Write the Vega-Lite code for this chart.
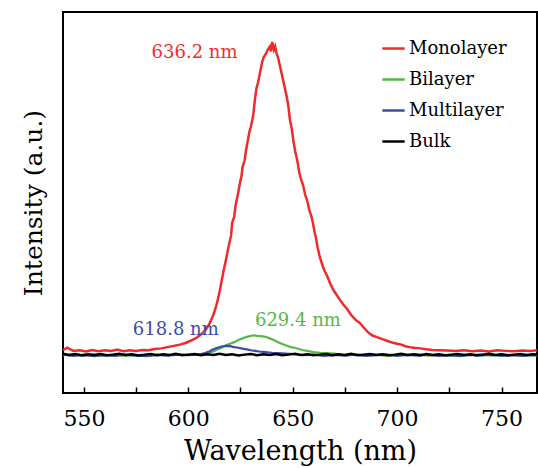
{
  "$schema": "https://vega.github.io/schema/vega-lite/v6.json",
  "width": 474,
  "height": 381,
  "autosize": "none",
  "padding": {"left": 63, "top": 12, "right": 1, "bottom": 75},
  "background": "white",
  "config": {
    "view": {"stroke": "black", "strokeWidth": 2},
    "font": "DejaVu Serif"
  },
  "datasets": {
    "spectra": [
      {"s":"Monolayer","x":540,"y":0.012},{"s":"Monolayer","x":542,"y":0.02},{"s":"Monolayer","x":545,"y":0.01},{"s":"Monolayer","x":548,"y":0.012},{"s":"Monolayer","x":551,"y":0.008},{"s":"Monolayer","x":554,"y":0.013},{"s":"Monolayer","x":557,"y":0.009},{"s":"Monolayer","x":560,"y":0.012},{"s":"Monolayer","x":563,"y":0.01},{"s":"Monolayer","x":566,"y":0.014},{"s":"Monolayer","x":569,"y":0.009},{"s":"Monolayer","x":572,"y":0.012},{"s":"Monolayer","x":575,"y":0.01},{"s":"Monolayer","x":578,"y":0.013},{"s":"Monolayer","x":581,"y":0.012},{"s":"Monolayer","x":584,"y":0.016},{"s":"Monolayer","x":587,"y":0.018},{"s":"Monolayer","x":590,"y":0.022},{"s":"Monolayer","x":593,"y":0.026},{"s":"Monolayer","x":596,"y":0.03},{"s":"Monolayer","x":599,"y":0.036},{"s":"Monolayer","x":602,"y":0.045},{"s":"Monolayer","x":604,"y":0.052},{"s":"Monolayer","x":606,"y":0.062},{"s":"Monolayer","x":608,"y":0.075},{"s":"Monolayer","x":610,"y":0.095},{"s":"Monolayer","x":611,"y":0.11},{"s":"Monolayer","x":612,"y":0.125},{"s":"Monolayer","x":613,"y":0.145},{"s":"Monolayer","x":614,"y":0.17},{"s":"Monolayer","x":615,"y":0.2},{"s":"Monolayer","x":616,"y":0.235},{"s":"Monolayer","x":617,"y":0.27},{"s":"Monolayer","x":618,"y":0.3},{"s":"Monolayer","x":619,"y":0.335},{"s":"Monolayer","x":620,"y":0.365},{"s":"Monolayer","x":620.5,"y":0.38},{"s":"Monolayer","x":621,"y":0.42},{"s":"Monolayer","x":622,"y":0.44},{"s":"Monolayer","x":622.6,"y":0.475},{"s":"Monolayer","x":623.4,"y":0.5},{"s":"Monolayer","x":624,"y":0.52},{"s":"Monolayer","x":624.8,"y":0.55},{"s":"Monolayer","x":625.5,"y":0.57},{"s":"Monolayer","x":626,"y":0.6},{"s":"Monolayer","x":627,"y":0.62},{"s":"Monolayer","x":627.6,"y":0.65},{"s":"Monolayer","x":628.4,"y":0.68},{"s":"Monolayer","x":629.2,"y":0.71},{"s":"Monolayer","x":630,"y":0.73},{"s":"Monolayer","x":631,"y":0.76},{"s":"Monolayer","x":632,"y":0.82},{"s":"Monolayer","x":632.6,"y":0.85},{"s":"Monolayer","x":633.4,"y":0.87},{"s":"Monolayer","x":634.3,"y":0.9},{"s":"Monolayer","x":635.2,"y":0.93},{"s":"Monolayer","x":636,"y":0.95},{"s":"Monolayer","x":637,"y":0.96},{"s":"Monolayer","x":638,"y":0.975},{"s":"Monolayer","x":639,"y":0.985},{"s":"Monolayer","x":639.6,"y":0.97},{"s":"Monolayer","x":640.2,"y":1.0},{"s":"Monolayer","x":641,"y":0.975},{"s":"Monolayer","x":641.6,"y":0.985},{"s":"Monolayer","x":642.4,"y":0.96},{"s":"Monolayer","x":643,"y":0.95},{"s":"Monolayer","x":644,"y":0.92},{"s":"Monolayer","x":645,"y":0.89},{"s":"Monolayer","x":646,"y":0.86},{"s":"Monolayer","x":647.3,"y":0.82},{"s":"Monolayer","x":648,"y":0.79},{"s":"Monolayer","x":648.7,"y":0.75},{"s":"Monolayer","x":649.6,"y":0.72},{"s":"Monolayer","x":650.4,"y":0.68},{"s":"Monolayer","x":651.2,"y":0.65},{"s":"Monolayer","x":652.2,"y":0.62},{"s":"Monolayer","x":653.2,"y":0.58},{"s":"Monolayer","x":654,"y":0.56},{"s":"Monolayer","x":655,"y":0.54},{"s":"Monolayer","x":656,"y":0.51},{"s":"Monolayer","x":657,"y":0.49},{"s":"Monolayer","x":658,"y":0.46},{"s":"Monolayer","x":659,"y":0.44},{"s":"Monolayer","x":659.7,"y":0.42},{"s":"Monolayer","x":660.5,"y":0.39},{"s":"Monolayer","x":661.2,"y":0.37},{"s":"Monolayer","x":662,"y":0.34},{"s":"Monolayer","x":663,"y":0.31},{"s":"Monolayer","x":664,"y":0.29},{"s":"Monolayer","x":665,"y":0.27},{"s":"Monolayer","x":666.5,"y":0.25},{"s":"Monolayer","x":668,"y":0.225},{"s":"Monolayer","x":669.5,"y":0.205},{"s":"Monolayer","x":671,"y":0.19},{"s":"Monolayer","x":672.5,"y":0.175},{"s":"Monolayer","x":674,"y":0.16},{"s":"Monolayer","x":676,"y":0.145},{"s":"Monolayer","x":678,"y":0.125},{"s":"Monolayer","x":680,"y":0.11},{"s":"Monolayer","x":682,"y":0.1},{"s":"Monolayer","x":684,"y":0.085},{"s":"Monolayer","x":686,"y":0.07},{"s":"Monolayer","x":688,"y":0.06},{"s":"Monolayer","x":690,"y":0.055},{"s":"Monolayer","x":692,"y":0.05},{"s":"Monolayer","x":694,"y":0.045},{"s":"Monolayer","x":696,"y":0.04},{"s":"Monolayer","x":698,"y":0.036},{"s":"Monolayer","x":700,"y":0.033},{"s":"Monolayer","x":702,"y":0.03},{"s":"Monolayer","x":704,"y":0.025},{"s":"Monolayer","x":706,"y":0.022},{"s":"Monolayer","x":708,"y":0.02},{"s":"Monolayer","x":711,"y":0.018},{"s":"Monolayer","x":714,"y":0.015},{"s":"Monolayer","x":717,"y":0.013},{"s":"Monolayer","x":720,"y":0.012},{"s":"Monolayer","x":724,"y":0.011},{"s":"Monolayer","x":728,"y":0.01},{"s":"Monolayer","x":732,"y":0.012},{"s":"Monolayer","x":736,"y":0.009},{"s":"Monolayer","x":740,"y":0.011},{"s":"Monolayer","x":744,"y":0.008},{"s":"Monolayer","x":748,"y":0.012},{"s":"Monolayer","x":752,"y":0.01},{"s":"Monolayer","x":756,"y":0.009},{"s":"Monolayer","x":760,"y":0.011},{"s":"Monolayer","x":764,"y":0.01},{"s":"Monolayer","x":767,"y":0.012},

      {"s":"Bilayer","x":540,"y":-0.004},{"s":"Bilayer","x":545,"y":-0.001},{"s":"Bilayer","x":550,"y":-0.006},{"s":"Bilayer","x":555,"y":-0.002},{"s":"Bilayer","x":560,"y":-0.005},{"s":"Bilayer","x":565,"y":-0.001},{"s":"Bilayer","x":570,"y":-0.006},{"s":"Bilayer","x":575,"y":-0.003},{"s":"Bilayer","x":580,"y":-0.005},{"s":"Bilayer","x":585,"y":-0.002},{"s":"Bilayer","x":590,"y":-0.004},{"s":"Bilayer","x":595,"y":-0.001},{"s":"Bilayer","x":600,"y":-0.003},{"s":"Bilayer","x":605,"y":-0.002},{"s":"Bilayer","x":608,"y":0.0},{"s":"Bilayer","x":610,"y":0.003},{"s":"Bilayer","x":612,"y":0.008},{"s":"Bilayer","x":614,"y":0.015},{"s":"Bilayer","x":616,"y":0.02},{"s":"Bilayer","x":618,"y":0.028},{"s":"Bilayer","x":620,"y":0.033},{"s":"Bilayer","x":622,"y":0.038},{"s":"Bilayer","x":624,"y":0.045},{"s":"Bilayer","x":626,"y":0.05},{"s":"Bilayer","x":628,"y":0.055},{"s":"Bilayer","x":630,"y":0.058},{"s":"Bilayer","x":631.5,"y":0.06},{"s":"Bilayer","x":633,"y":0.058},{"s":"Bilayer","x":635,"y":0.057},{"s":"Bilayer","x":637,"y":0.055},{"s":"Bilayer","x":639,"y":0.05},{"s":"Bilayer","x":641,"y":0.045},{"s":"Bilayer","x":643,"y":0.038},{"s":"Bilayer","x":645,"y":0.032},{"s":"Bilayer","x":647,"y":0.027},{"s":"Bilayer","x":649,"y":0.022},{"s":"Bilayer","x":651,"y":0.02},{"s":"Bilayer","x":653,"y":0.016},{"s":"Bilayer","x":655,"y":0.012},{"s":"Bilayer","x":657,"y":0.01},{"s":"Bilayer","x":660,"y":0.006},{"s":"Bilayer","x":663,"y":0.004},{"s":"Bilayer","x":666,"y":0.003},{"s":"Bilayer","x":670,"y":0.001},{"s":"Bilayer","x":675,"y":-0.004},{"s":"Bilayer","x":680,"y":-0.001},{"s":"Bilayer","x":685,"y":-0.005},{"s":"Bilayer","x":690,"y":-0.002},{"s":"Bilayer","x":695,"y":-0.006},{"s":"Bilayer","x":700,"y":-0.002},{"s":"Bilayer","x":705,"y":-0.004},{"s":"Bilayer","x":710,"y":-0.001},{"s":"Bilayer","x":715,"y":-0.005},{"s":"Bilayer","x":720,"y":-0.003},{"s":"Bilayer","x":725,"y":-0.006},{"s":"Bilayer","x":730,"y":-0.002},{"s":"Bilayer","x":735,"y":-0.004},{"s":"Bilayer","x":740,"y":-0.001},{"s":"Bilayer","x":745,"y":-0.005},{"s":"Bilayer","x":750,"y":-0.002},{"s":"Bilayer","x":755,"y":-0.004},{"s":"Bilayer","x":760,"y":-0.003},{"s":"Bilayer","x":767,"y":-0.005},

      {"s":"Multilayer","x":540,"y":-0.002},{"s":"Multilayer","x":545,"y":-0.006},{"s":"Multilayer","x":550,"y":-0.003},{"s":"Multilayer","x":555,"y":-0.007},{"s":"Multilayer","x":560,"y":-0.004},{"s":"Multilayer","x":565,"y":-0.006},{"s":"Multilayer","x":570,"y":-0.002},{"s":"Multilayer","x":575,"y":-0.005},{"s":"Multilayer","x":580,"y":-0.007},{"s":"Multilayer","x":585,"y":-0.003},{"s":"Multilayer","x":590,"y":-0.005},{"s":"Multilayer","x":595,"y":-0.002},{"s":"Multilayer","x":600,"y":-0.004},{"s":"Multilayer","x":604,"y":-0.002},{"s":"Multilayer","x":606,"y":0.0},{"s":"Multilayer","x":608,"y":0.003},{"s":"Multilayer","x":610,"y":0.008},{"s":"Multilayer","x":612,"y":0.015},{"s":"Multilayer","x":614,"y":0.02},{"s":"Multilayer","x":616,"y":0.024},{"s":"Multilayer","x":618,"y":0.026},{"s":"Multilayer","x":620,"y":0.025},{"s":"Multilayer","x":622,"y":0.022},{"s":"Multilayer","x":624,"y":0.02},{"s":"Multilayer","x":626,"y":0.017},{"s":"Multilayer","x":628,"y":0.015},{"s":"Multilayer","x":630,"y":0.012},{"s":"Multilayer","x":632,"y":0.01},{"s":"Multilayer","x":634,"y":0.008},{"s":"Multilayer","x":637,"y":0.006},{"s":"Multilayer","x":640,"y":0.004},{"s":"Multilayer","x":645,"y":0.002},{"s":"Multilayer","x":650,"y":0.0},{"s":"Multilayer","x":655,"y":-0.004},{"s":"Multilayer","x":660,"y":-0.002},{"s":"Multilayer","x":665,"y":-0.006},{"s":"Multilayer","x":670,"y":-0.003},{"s":"Multilayer","x":675,"y":-0.005},{"s":"Multilayer","x":680,"y":-0.002},{"s":"Multilayer","x":685,"y":-0.006},{"s":"Multilayer","x":690,"y":-0.004},{"s":"Multilayer","x":695,"y":-0.002},{"s":"Multilayer","x":700,"y":-0.006},{"s":"Multilayer","x":705,"y":-0.003},{"s":"Multilayer","x":710,"y":-0.005},{"s":"Multilayer","x":715,"y":-0.002},{"s":"Multilayer","x":720,"y":-0.006},{"s":"Multilayer","x":725,"y":-0.004},{"s":"Multilayer","x":730,"y":-0.007},{"s":"Multilayer","x":735,"y":-0.003},{"s":"Multilayer","x":740,"y":-0.005},{"s":"Multilayer","x":745,"y":-0.002},{"s":"Multilayer","x":750,"y":-0.006},{"s":"Multilayer","x":755,"y":-0.004},{"s":"Multilayer","x":760,"y":-0.006},{"s":"Multilayer","x":767,"y":-0.003},

      {"s":"Bulk","x":540,"y":0.001},{"s":"Bulk","x":543,"y":-0.003},{"s":"Bulk","x":546,"y":0.0},{"s":"Bulk","x":549,"y":-0.004},{"s":"Bulk","x":552,"y":-0.001},{"s":"Bulk","x":555,"y":-0.003},{"s":"Bulk","x":558,"y":0.0},{"s":"Bulk","x":561,"y":-0.004},{"s":"Bulk","x":564,"y":-0.002},{"s":"Bulk","x":567,"y":0.001},{"s":"Bulk","x":570,"y":-0.003},{"s":"Bulk","x":573,"y":-0.001},{"s":"Bulk","x":576,"y":-0.005},{"s":"Bulk","x":579,"y":-0.002},{"s":"Bulk","x":582,"y":0.0},{"s":"Bulk","x":585,"y":-0.004},{"s":"Bulk","x":588,"y":-0.001},{"s":"Bulk","x":591,"y":-0.003},{"s":"Bulk","x":594,"y":0.001},{"s":"Bulk","x":597,"y":-0.004},{"s":"Bulk","x":600,"y":-0.002},{"s":"Bulk","x":603,"y":0.0},{"s":"Bulk","x":606,"y":-0.004},{"s":"Bulk","x":609,"y":-0.001},{"s":"Bulk","x":612,"y":-0.003},{"s":"Bulk","x":615,"y":0.001},{"s":"Bulk","x":618,"y":-0.003},{"s":"Bulk","x":621,"y":-0.001},{"s":"Bulk","x":624,"y":-0.005},{"s":"Bulk","x":627,"y":-0.002},{"s":"Bulk","x":630,"y":0.0},{"s":"Bulk","x":633,"y":-0.004},{"s":"Bulk","x":636,"y":-0.001},{"s":"Bulk","x":639,"y":-0.003},{"s":"Bulk","x":642,"y":0.0},{"s":"Bulk","x":645,"y":-0.004},{"s":"Bulk","x":648,"y":-0.002},{"s":"Bulk","x":651,"y":0.001},{"s":"Bulk","x":654,"y":-0.003},{"s":"Bulk","x":657,"y":-0.001},{"s":"Bulk","x":660,"y":-0.004},{"s":"Bulk","x":663,"y":-0.002},{"s":"Bulk","x":666,"y":0.0},{"s":"Bulk","x":669,"y":-0.004},{"s":"Bulk","x":672,"y":-0.001},{"s":"Bulk","x":675,"y":-0.003},{"s":"Bulk","x":678,"y":0.001},{"s":"Bulk","x":681,"y":-0.004},{"s":"Bulk","x":684,"y":-0.002},{"s":"Bulk","x":687,"y":0.0},{"s":"Bulk","x":690,"y":-0.003},{"s":"Bulk","x":693,"y":-0.001},{"s":"Bulk","x":696,"y":-0.004},{"s":"Bulk","x":699,"y":-0.002},{"s":"Bulk","x":702,"y":0.001},{"s":"Bulk","x":705,"y":-0.003},{"s":"Bulk","x":708,"y":-0.001},{"s":"Bulk","x":711,"y":-0.004},{"s":"Bulk","x":714,"y":0.0},{"s":"Bulk","x":717,"y":-0.003},{"s":"Bulk","x":720,"y":-0.001},{"s":"Bulk","x":723,"y":-0.004},{"s":"Bulk","x":726,"y":-0.002},{"s":"Bulk","x":729,"y":0.0},{"s":"Bulk","x":732,"y":-0.003},{"s":"Bulk","x":735,"y":-0.001},{"s":"Bulk","x":738,"y":-0.004},{"s":"Bulk","x":741,"y":-0.002},{"s":"Bulk","x":744,"y":0.001},{"s":"Bulk","x":747,"y":-0.003},{"s":"Bulk","x":750,"y":-0.001},{"s":"Bulk","x":753,"y":-0.004},{"s":"Bulk","x":756,"y":-0.002},{"s":"Bulk","x":759,"y":0.0},{"s":"Bulk","x":762,"y":-0.003},{"s":"Bulk","x":765,"y":-0.001},{"s":"Bulk","x":767,"y":-0.002}
    ],
    "labels": [
      {"s":"Monolayer","x":603,"y":0.965,"t":"636.2 nm"},
      {"s":"Multilayer","x":594,"y":0.077,"t":"618.8 nm"},
      {"s":"Bilayer","x":652.5,"y":0.106,"t":"629.4 nm"}
    ]
  },
  "encoding": {
    "x": {
      "field": "x", "type": "quantitative",
      "scale": {"domain": [540, 767], "nice": false, "zero": false},
      "axis": {
        "title": "Wavelength (nm)",
        "titleFont": "DejaVu Serif", "titleFontSize": 27, "titleFontWeight": "normal", "titleColor": "black", "titlePadding": 9,
        "values": [550, 575, 600, 625, 650, 675, 700, 725, 750],
        "labelExpr": "datum.value % 50 == 0 ? datum.label : ''",
        "labelFont": "DejaVu Serif", "labelFontSize": 22, "labelColor": "black", "labelPadding": 21,
        "tickSize": -6, "tickColor": "black", "tickWidth": 1.5,
        "domain": false, "grid": false
      }
    },
    "y": {
      "field": "y", "type": "quantitative",
      "scale": {"domain": [-0.125, 1.096], "nice": false, "zero": false},
      "axis": {
        "title": "Intensity (a.u.)",
        "titleFont": "DejaVu Serif", "titleFontSize": 25, "titleFontWeight": "normal", "titleColor": "black", "titlePadding": 17,
        "labels": false, "ticks": false, "domain": false, "grid": false
      }
    }
  },
  "layer": [
    {
      "data": {"name": "spectra"},
      "transform": [{"filter": "datum.s == 'Monolayer'"}],
      "mark": {"type": "line", "strokeWidth": 2.5, "clip": true},
      "encoding": {
        "color": {
          "field": "s", "type": "nominal",
          "scale": {"domain": ["Monolayer", "Bilayer", "Multilayer", "Bulk"], "range": ["#ee2b2b", "#55b746", "#3a4ea8", "#000000"]},
          "legend": {
            "title": null, "orient": "none", "legendX": 318, "legendY": 24,
            "symbolType": "stroke", "symbolSize": 500, "symbolStrokeWidth": 2.5,
            "labelFont": "DejaVu Serif", "labelFontSize": 18, "labelColor": "black", "labelOffset": 3,
            "rowPadding": 9, "padding": 0
          }
        }
      }
    },
    {
      "data": {"name": "spectra"},
      "transform": [{"filter": "datum.s == 'Bilayer'"}],
      "mark": {"type": "line", "strokeWidth": 2.2, "clip": true},
      "encoding": {"color": {"field": "s", "type": "nominal"}}
    },
    {
      "data": {"name": "spectra"},
      "transform": [{"filter": "datum.s == 'Multilayer'"}],
      "mark": {"type": "line", "strokeWidth": 2.2, "clip": true},
      "encoding": {"color": {"field": "s", "type": "nominal"}}
    },
    {
      "data": {"name": "spectra"},
      "transform": [{"filter": "datum.s == 'Bulk'"}],
      "mark": {"type": "line", "strokeWidth": 2.5, "clip": true},
      "encoding": {"color": {"field": "s", "type": "nominal"}}
    },
    {
      "data": {"name": "labels"},
      "transform": [{"filter": "datum.s == 'Monolayer'"}],
      "mark": {"type": "text", "font": "DejaVu Serif", "fontSize": 18, "color": "#ee2b2b", "baseline": "middle", "align": "center"},
      "encoding": {"text": {"field": "t"}}
    },
    {
      "data": {"name": "labels"},
      "transform": [{"filter": "datum.s == 'Multilayer'"}],
      "mark": {"type": "text", "font": "DejaVu Serif", "fontSize": 18, "color": "#3a4ea8", "baseline": "middle", "align": "center"},
      "encoding": {"text": {"field": "t"}}
    },
    {
      "data": {"name": "labels"},
      "transform": [{"filter": "datum.s == 'Bilayer'"}],
      "mark": {"type": "text", "font": "DejaVu Serif", "fontSize": 18, "color": "#55b746", "baseline": "middle", "align": "center"},
      "encoding": {"text": {"field": "t"}}
    }
  ]
}
